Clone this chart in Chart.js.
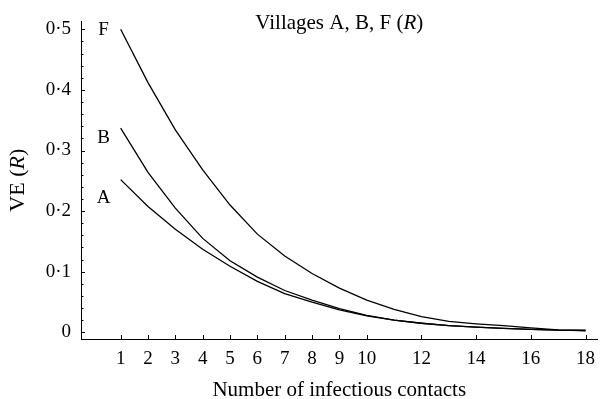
<!DOCTYPE html>
<html>
<head>
<meta charset="utf-8">
<script src="https://cdn.jsdelivr.net/npm/chart.js@4/dist/chart.umd.min.js"></script>
<style>
  html, body { margin: 0; padding: 0; background: #fff; }
  #wrap { width: 604px; height: 399px; }
</style>
</head>
<body>
<div id="wrap"><canvas id="chart" width="604" height="399"></canvas></div>
<script>
// number of infectious contacts
const contacts = [1, 2, 3, 4, 5, 6, 7, 8, 9, 10, 11, 12, 13, 14, 15, 16, 17, 18];

// VE(R)
const villageF = [0.500, 0.412, 0.334, 0.268, 0.210, 0.162, 0.126, 0.097, 0.073, 0.053, 0.038, 0.026, 0.018, 0.014, 0.011, 0.0075, 0.004, 0.003];
const villageB = [0.337, 0.264, 0.205, 0.155, 0.118, 0.091, 0.069, 0.053, 0.039, 0.028, 0.020, 0.015, 0.011, 0.0085, 0.0065, 0.005, 0.0035, 0.003];
const villageA = [0.252, 0.2075, 0.170, 0.137, 0.109, 0.084, 0.064, 0.050, 0.037, 0.027, 0.020, 0.015, 0.011, 0.0085, 0.0065, 0.005, 0.0035, 0.003];

const seriesNames = ["F", "B", "A"];

const xTicks = [1, 2, 3, 4, 5, 6, 7, 8, 9, 10, 12, 14, 16, 18];
const yTicks = [0, 0.1, 0.2, 0.3, 0.4, 0.5];

const serif = "'Liberation Serif', 'DejaVu Serif', serif";
const tickFont = { family: serif, size: 19 };

function pts(vals) {
  return contacts.map((c, i) => ({ x: c, y: vals[i] }));
}

function line(label, vals) {
  return {
    label: label,
    data: pts(vals),
    borderColor: "#000",
    borderWidth: 1.3,
    pointRadius: 0,
    tension: 0,
    fill: false
  };
}

// inward tick marks, like the original figure
const inwardTicks = {
  id: "inwardTicks",
  afterDraw(chart) {
    const ctx = chart.ctx;
    const xs = chart.scales.x, ys = chart.scales.y;
    const area = chart.chartArea;
    ctx.save();
    ctx.strokeStyle = "#000";
    ctx.lineWidth = 1;
    // y: minor every 0.02, major every 0.1
    for (let k = 0; k <= 25; k++) {
      const v = k * 0.02;
      const py = Math.round(ys.getPixelForValue(v)) + 0.5;
      const len = (k % 5 === 0) ? 4 : 2.5;
      ctx.beginPath();
      ctx.moveTo(area.left, py);
      ctx.lineTo(area.left + len, py);
      ctx.stroke();
    }
    xTicks.forEach(v => {
      const px = Math.round(xs.getPixelForValue(v)) + 0.5;
      ctx.beginPath();
      ctx.moveTo(px, area.bottom);
      ctx.lineTo(px, area.bottom - 4);
      ctx.stroke();
    });
    ctx.restore();
  }
};

// draws a run of [text, italic] pieces centred on (0,0) of the current transform
function drawPieces(ctx, pieces, size, baseline) {
  const fonts = pieces.map(p => (p[1] ? "italic " : "") + size + "px " + serif);
  let total = 0;
  const widths = pieces.map((p, i) => {
    ctx.font = fonts[i];
    const w = ctx.measureText(p[0]).width;
    total += w;
    return w;
  });
  let x = -total / 2;
  pieces.forEach((p, i) => {
    ctx.font = fonts[i];
    ctx.fillText(p[0], x, baseline);
    x += widths[i];
  });
}

const labelsPlugin = {
  id: "labelsPlugin",
  afterDraw(chart) {
    const ctx = chart.ctx;
    const area = chart.chartArea;
    const xs = chart.scales.x, ys = chart.scales.y;
    const cx = (area.left + area.right) / 2;
    ctx.save();
    ctx.fillStyle = "#000";
    ctx.textAlign = "left";
    ctx.textBaseline = "alphabetic";

    // title inside the plot
    ctx.save();
    ctx.translate(cx, 0);
    drawPieces(ctx, [["Villages A, B, F (", false], ["R", true], [")", false]], 21, 29);
    ctx.restore();

    // x axis title
    ctx.save();
    ctx.translate(cx, 0);
    drawPieces(ctx, [["Number of infectious contacts", false]], 21, 396);
    ctx.restore();

    // y axis title
    ctx.save();
    ctx.translate(0, (area.top + area.bottom) / 2);
    ctx.rotate(-Math.PI / 2);
    drawPieces(ctx, [["VE (", false], ["R", true], [")", false]], 22, 24);
    ctx.restore();

    // curve names next to the first point of each curve
    const drops = [6, 15, 23];
    [villageF, villageB, villageA].forEach((vals, i) => {
      const px = xs.getPixelForValue(contacts[0]) - 17;
      const py = ys.getPixelForValue(vals[0]) + drops[i];
      ctx.save();
      ctx.translate(px, 0);
      drawPieces(ctx, [[seriesNames[i], false]], 19, py);
      ctx.restore();
    });
    ctx.restore();
  }
};

new Chart(document.getElementById("chart"), {
  type: "line",
  data: {
    datasets: [
      line("F", villageF),
      line("B", villageB),
      line("A", villageA)
    ]
  },
  options: {
    responsive: false,
    animation: false,
    devicePixelRatio: 1,
    layout: { padding: { top: 14, right: 0, left: 0, bottom: 0 } },
    plugins: {
      legend: { display: false },
      tooltip: { enabled: false },
      title: { display: false }
    },
    scales: {
      x: {
        type: "linear",
        min: -0.45,
        max: 18.44,
        grid: { display: false, drawTicks: false },
        border: { display: true, color: "#000", width: 1 },
        ticks: {
          font: tickFont,
          color: "#000",
          padding: 9,
          maxRotation: 0,
          autoSkip: false
        },
        afterBuildTicks(scale) {
          scale.ticks = xTicks.map(v => ({ value: v }));
        },
        afterFit(scale) {
          scale.height = 60;
        }
      },
      y: {
        type: "linear",
        min: -0.011,
        max: 0.513,
        grid: { display: false, drawTicks: false },
        border: { display: true, color: "#000", width: 1 },
        ticks: {
          font: tickFont,
          color: "#000",
          padding: 10,
          autoSkip: false,
          callback: v => (v === 0 ? "0" : v.toFixed(1).replace(".", "\u00b7"))
        },
        afterBuildTicks(scale) {
          scale.ticks = yTicks.map(v => ({ value: v }));
        },
        afterFit(scale) {
          scale.width = 81;
        }
      }
    }
  },
  plugins: [inwardTicks, labelsPlugin]
});
</script>
</body>
</html>
